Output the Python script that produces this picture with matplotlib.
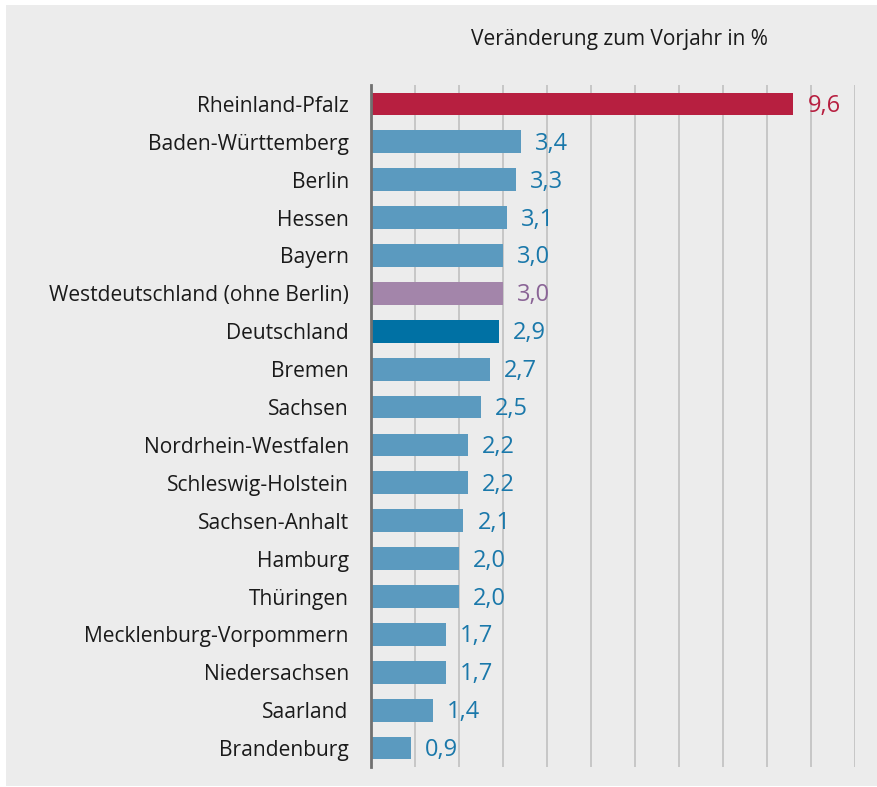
import matplotlib
matplotlib.use("Agg")
import matplotlib.pyplot as plt
from matplotlib.patches import Rectangle

categories = ["Rheinland-Pfalz", "Baden-Württemberg", "Berlin", "Hessen", "Bayern",
              "Westdeutschland (ohne Berlin)", "Deutschland", "Bremen", "Sachsen",
              "Nordrhein-Westfalen", "Schleswig-Holstein", "Sachsen-Anhalt", "Hamburg",
              "Thüringen", "Mecklenburg-Vorpommern", "Niedersachsen", "Saarland", "Brandenburg"]
values = [9.6, 3.4, 3.3, 3.1, 3.0, 3.0, 2.9, 2.7, 2.5, 2.2, 2.2, 2.1, 2.0, 2.0, 1.7, 1.7, 1.4, 0.9]
value_labels = ["9,6", "3,4", "3,3", "3,1", "3,0", "3,0", "2,9", "2,7", "2,5", "2,2", "2,2",
                "2,1", "2,0", "2,0", "1,7", "1,7", "1,4", "0,9"]

BLUE = "#5b9abf"
RED = "#b71f40"
PURPLE = "#a385aa"
DARK = "#0071a4"
bar_colors = []
text_colors = []
for c in categories:
    if c == "Rheinland-Pfalz":
        bar_colors.append(RED); text_colors.append(RED)
    elif c.startswith("Westdeutschland"):
        bar_colors.append(PURPLE); text_colors.append("#8a6496")
    elif c == "Deutschland":
        bar_colors.append(DARK); text_colors.append("#1a78aa")
    else:
        bar_colors.append(BLUE); text_colors.append("#1a78aa")

plt.rcParams['font.family'] = ['Open Sans', 'DejaVu Sans']
W, H = 877, 787
fig = plt.figure(figsize=(W / 100, H / 100), dpi=100)
fig.patch.set_facecolor("white")
fig.patches.append(Rectangle((6 / W, 1 - 786 / H), (W - 6) / W, (786 - 5) / H,
                             transform=fig.transFigure, facecolor="#ececec",
                             edgecolor="none", zorder=-10))

ax = fig.add_axes([371 / W, 1 - 767 / H, (855 - 371) / W, (767 - 85) / H])
ax.set_facecolor("none")
y = list(range(len(categories)))
ax.barh(y, values, height=0.6, color=bar_colors, zorder=3)
for yi, v, lab, tc in zip(y, values, value_labels, text_colors):
    ax.annotate(lab, (v, yi), xytext=(14, -2), textcoords="offset pixels",
                ha="left", va="center", fontsize=17, color=tc)
ax.set_xlim(0, 11)
ax.set_ylim(len(categories) - 0.5, -0.5)
ax.set_yticks(y)
ax.set_yticklabels(categories, fontsize=15.1, color="#1a1a1a")
ax.tick_params(axis="y", length=0, pad=16)
ax.set_xticks(range(0, 12))
ax.tick_params(axis="x", length=0, labelbottom=False)
ax.grid(axis="x", color="#c0c0c0", linewidth=1.2, zorder=0)
for s in ["top", "right", "bottom"]:
    ax.spines[s].set_visible(False)
ax.spines["left"].set_color("#707070")
ax.spines["left"].set_linewidth(2)
ax.spines["left"].set_zorder(4)

fig.text(619 / W, 1 - 40 / H, "Veränderung zum Vorjahr in %", ha="center", va="center",
         fontsize=15, color="#1a1a1a")

fig.savefig("out.png", dpi=100)
